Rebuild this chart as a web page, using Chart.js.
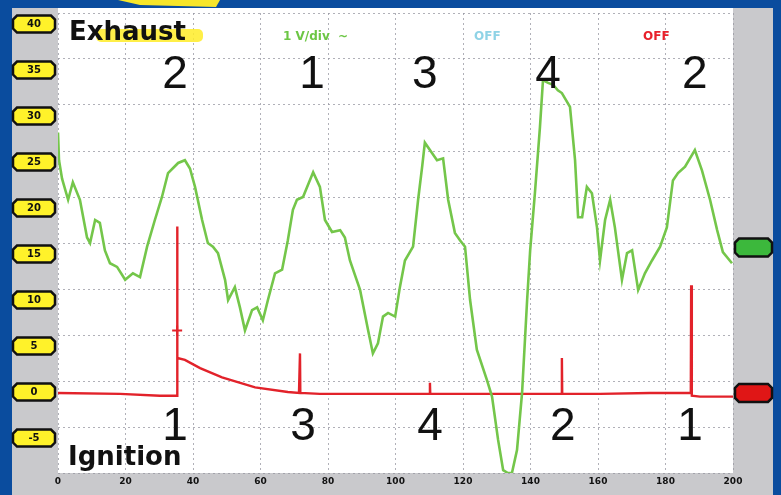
<!DOCTYPE html>
<html><head><meta charset="utf-8">
<script src="https://cdn.jsdelivr.net/npm/chart.js@4.4.1/dist/chart.umd.min.js"></script>
<style>html,body{margin:0;padding:0;background:#0a4c9e;overflow:hidden}#wrap{width:781px;height:495px;position:relative}</style>
</head><body><div id="wrap"><canvas id="c" width="781" height="495"></canvas></div>
<script>
// ---- data (time in ms, amplitude in V) ----
const exhaustX = [0,0.3,1.2,3.0,4.4,6.5,8.6,9.5,11.0,12.4,13.9,15.4,17.5,19.9,22.2,24.3,26.4,28.7,30.8,32.6,35.6,37.6,39.1,40.6,42.7,44.4,45.9,47.4,49.5,50.4,52.4,53.9,55.4,57.5,59.0,60.7,62.2,64.3,66.4,68.1,69.6,70.8,72.6,75.6,77.6,79.1,81.2,83.6,85.0,86.5,89.5,91.9,93.3,94.8,96.3,97.8,99.9,101.3,102.8,105.2,106.7,107.9,108.7,110.2,112.3,114.1,115.6,117.6,119.1,120.6,122.1,124.1,127.1,128.6,130.4,131.9,133.3,134.5,136.0,137.5,139.0,139.9,141.3,142.8,143.7,145.2,146.7,148.1,149.3,151.7,153.2,154.1,155.3,156.7,158.2,159.7,160.6,162.1,163.6,165.0,167.1,168.6,170.1,171.9,173.9,176.0,178.4,180.4,182.2,183.7,185.8,188.7,190.8,193.2,195.3,197.0,199.7];
const exhaustY = [28.2,25.2,23.2,20.9,22.8,20.9,16.8,16.2,18.7,18.4,15.4,14.0,13.6,12.2,12.9,12.5,15.8,18.7,21.2,23.8,24.9,25.2,24.3,22.3,18.7,16.2,15.8,15.1,12.2,10.0,11.4,9.2,6.7,8.9,9.2,7.8,10.0,12.9,13.3,16.5,19.8,20.9,21.2,23.9,22.3,18.7,17.4,17.6,16.8,14.3,11.1,6.7,4.2,5.3,8.2,8.6,8.2,11.4,14.3,15.8,20.9,24.5,27.1,26.3,25.2,25.4,20.9,17.3,16.5,15.8,10.0,4.6,1.3,-0.5,-5.2,-8.5,-8.8,-8.8,-6.3,-0.1,10.0,15.4,21.6,28.8,33.9,33.6,33.4,32.8,32.5,31.0,25.2,19.0,19.0,22.3,21.6,17.9,14.3,18.7,20.9,17.9,12.2,15.1,15.4,11.1,12.9,14.3,15.8,17.9,23.0,23.8,24.5,26.3,24.1,20.9,17.6,15.2,14.0];
const ignitionX = [0,18.4,30.2,35.3,35.3,35.4,37.6,42.1,48.6,58.4,68.1,71.4,71.7,71.8,77.6,95.4,110.1,110.2,110.3,122.1,142.8,149.2,149.3,149.4,160.6,175.4,187.5,187.6,187.8,190.2,200];
const ignitionY = [-0.1,-0.2,-0.4,-0.4,18.0,3.7,3.5,2.6,1.6,0.5,0.0,-0.1,4.2,-0.1,-0.2,-0.2,-0.2,1.0,-0.2,-0.2,-0.2,-0.2,3.7,-0.2,-0.2,-0.1,-0.1,11.6,-0.4,-0.5,-0.5];
const triggerX = [35.3];
const triggerY = [6.7];
const yTickLabels = [40,35,30,25,20,15,10,5,0,-5];
const xTickLabels = [0,20,40,60,80,100,120,140,160,180,200];
const topOrder = ['2','1','3','4','2'];
const topOrderX = [34.7,75.3,108.7,145.2,188.7];
const bottomOrder = ['1','3','4','2','1'];
const bottomOrderX = [34.7,72.6,110.2,149.6,187.3];
const exhaustRef = 15.7;
const ignitionRef = -0.1;

const toXY = (xs, ys) => xs.map((x, i) => ({x, y: ys[i]}));

const BLUE = '#0a4c9e', GREY = '#c9c9cc';

function pill(ctx, x1, x2, yc, h, fill) {
  const c = 4;
  ctx.beginPath();
  ctx.moveTo(x1 + c, yc - h/2);
  ctx.lineTo(x2 - c, yc - h/2);
  ctx.lineTo(x2, yc - h/2 + c);
  ctx.lineTo(x2, yc + h/2 - c);
  ctx.lineTo(x2 - c, yc + h/2);
  ctx.lineTo(x1 + c, yc + h/2);
  ctx.lineTo(x1, yc + h/2 - c);
  ctx.lineTo(x1, yc - h/2 + c);
  ctx.closePath();
  ctx.fillStyle = fill; ctx.fill();
  ctx.lineWidth = 2.5; ctx.strokeStyle = '#111'; ctx.stroke();
}

const scopePlugin = {
  id: 'scope',
  beforeDraw(chart) {
    const {ctx, chartArea: a, width, height} = chart;
    ctx.save();
    ctx.fillStyle = BLUE; ctx.fillRect(0, 0, width, height);
    ctx.fillStyle = GREY; ctx.fillRect(12, 8, 761, height - 8);
    ctx.fillStyle = '#ffffff'; ctx.fillRect(a.left, 8, a.right - a.left, a.bottom - 8);
    // yellow tab at top
    ctx.fillStyle = '#f7e62a';
    ctx.beginPath(); ctx.moveTo(118, 0); ctx.lineTo(220, 0); ctx.lineTo(216, 7); ctx.lineTo(140, 5); ctx.closePath(); ctx.fill();
    ctx.restore();
  },
  afterDatasetsDraw(chart) {
    const {ctx} = chart;
    const xs = chart.scales.x, ys = chart.scales.y;
    ctx.save();
    // y tick pills
    ctx.textAlign = 'center'; ctx.textBaseline = 'middle';
    yTickLabels.forEach(v => {
      const y = ys.getPixelForValue(v);
      pill(ctx, 13, 55, y, 17, '#fff22a');
      ctx.fillStyle = '#111'; ctx.font = 'bold 10px "DejaVu Sans"';
      ctx.fillText(String(v), 34, y + 0.5);
    });
    // right reference markers
    pill(ctx, 735, 772, ys.getPixelForValue(exhaustRef), 18, '#3cb83c');
    pill(ctx, 735, 772, ys.getPixelForValue(ignitionRef), 18, '#e01616');
    // header texts
    ctx.textAlign = 'left'; ctx.textBaseline = 'alphabetic';
    ctx.font = 'bold 12px "DejaVu Sans"';
    ctx.fillStyle = '#6cc644'; ctx.fillText('1 V/div  ~', 283, 40);
    ctx.fillStyle = '#8fd3e6'; ctx.fillText('OFF', 474, 40);
    ctx.fillStyle = '#e8202a'; ctx.fillText('OFF', 643, 40);
    // Exhaust title with highlight
    ctx.fillStyle = 'rgba(255,236,40,0.85)';
    ctx.beginPath(); ctx.roundRect(96, 29, 107, 13, 5); ctx.fill();
    ctx.fillStyle = '#111'; ctx.font = 'bold 26px "DejaVu Sans"';
    ctx.fillText('Exhaust', 69, 40);
    ctx.fillText('Ignition', 68, 465);
    // firing order numbers
    ctx.textAlign = 'center';
    ctx.font = '46px "Liberation Sans"';
    topOrder.forEach((t, i) => ctx.fillText(t, xs.getPixelForValue(topOrderX[i]), 88));
    bottomOrder.forEach((t, i) => ctx.fillText(t, xs.getPixelForValue(bottomOrderX[i]), 440));
    ctx.restore();
  }
};

new Chart(document.getElementById('c'), {
  type: 'line',
  data: {
    datasets: [
      {label: 'Exhaust', data: toXY(exhaustX, exhaustY), borderColor: '#74c64a', borderWidth: 2.6, pointRadius: 0, tension: 0},
      {label: 'Ignition', data: toXY(ignitionX, ignitionY), borderColor: '#e2222a', borderWidth: 2.4, pointRadius: 0, tension: 0},
      {label: 'Trigger', data: toXY(triggerX, triggerY), showLine: false, pointStyle: 'cross', pointRadius: 5, borderColor: '#e2222a', borderWidth: 2}
    ]
  },
  options: {
    responsive: false, animation: false, devicePixelRatio: 1,
    layout: {padding: {left: 58, right: 48, top: 13, bottom: 2}},
    plugins: {legend: {display: false}, tooltip: {enabled: false}},
    scales: {
      x: {
        type: 'linear', min: 0, max: 200,
        afterBuildTicks: s => { s.ticks = xTickLabels.map(v => ({value: v})); },
        afterFit: s => { s.height = 20; },
        ticks: {color: '#111', font: {family: 'DejaVu Sans', weight: 'bold', size: 9}, padding: 3, maxRotation: 0, autoSkip: false},
        grid: {color: 'rgba(150,150,160,0.75)', lineWidth: 1, drawTicks: false},
        border: {display: false, dash: [2, 3]}
      },
      y: {
        type: 'linear', min: -8.8, max: 41.2,
        afterBuildTicks: s => { const t = []; for (let k = 0; k <= 10; k++) t.push({value: -8.8 + 5 * k}); s.ticks = t; },
        afterFit: s => { s.width = 0; },
        ticks: {display: false},
        grid: {color: 'rgba(150,150,160,0.75)', lineWidth: 1, drawTicks: false},
        border: {display: false, dash: [2, 3]}
      }
    }
  },
  plugins: [scopePlugin]
});
</script></body></html>
